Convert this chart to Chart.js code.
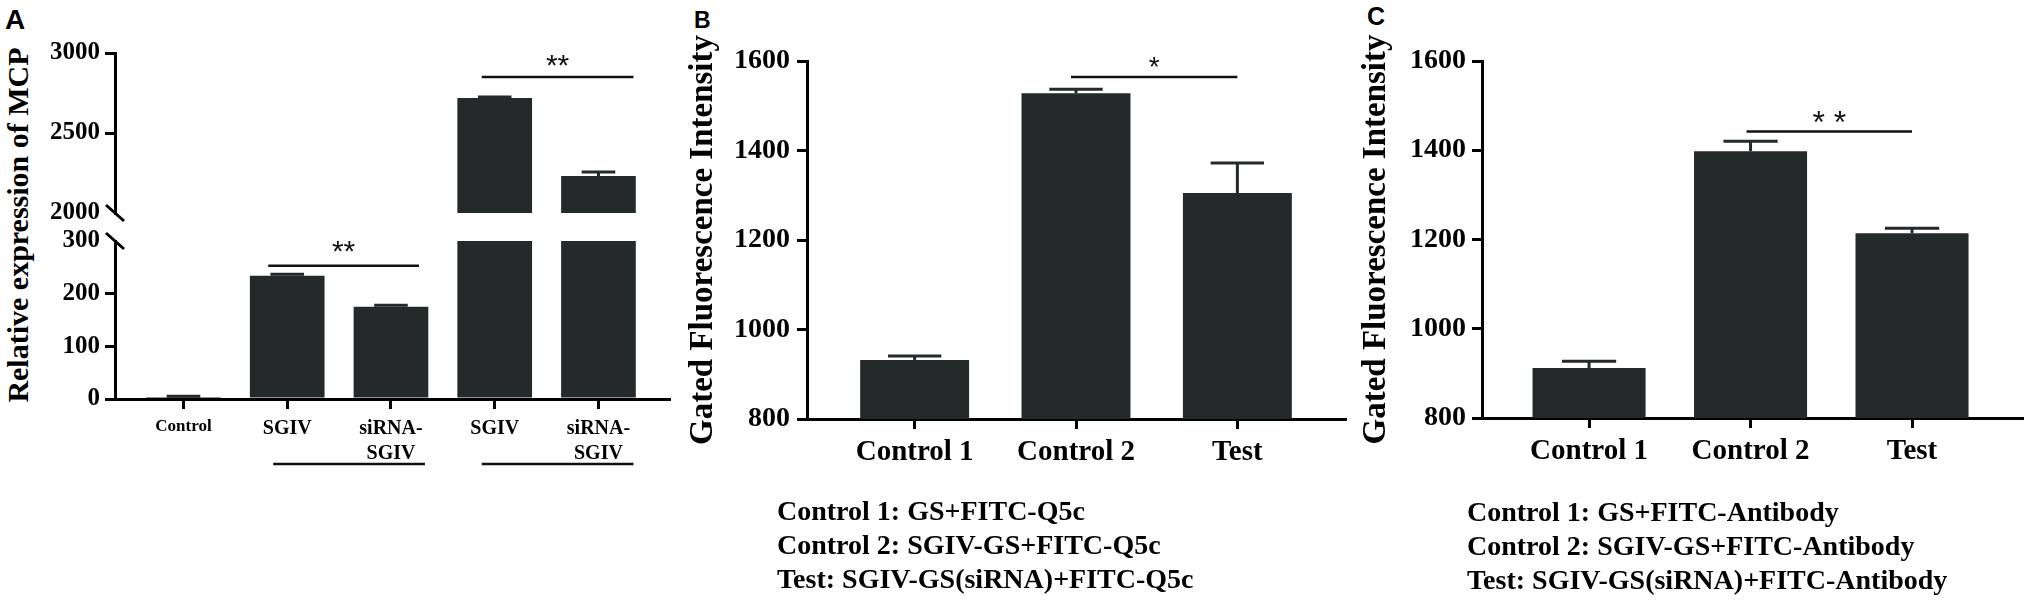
<!DOCTYPE html>
<html>
<head>
<meta charset="utf-8">
<script src="https://cdn.jsdelivr.net/npm/chart.js@4.4.1/dist/chart.umd.min.js"></script>
<style>
  body { margin: 0; width: 2031px; height: 600px; background: #fff; position: relative; overflow: hidden;
         font-family: 'Liberation Serif', 'Times New Roman', serif; color: #000; }
  canvas { position: absolute; }
  .letter { position: absolute; font-family: 'Liberation Sans', Arial, sans-serif; font-weight: bold; line-height: 1; }
  .ytitle { position: absolute; width: 400px; height: 30px; line-height: 30px; text-align: center;
            font-weight: bold; font-size: 30px; transform: rotate(-90deg); white-space: nowrap; }
  .note { position: absolute; font-weight: bold; font-size: 28px; line-height: 34px; white-space: nowrap; }
</style>
</head>
<body>
<div class="letter" style="left:5px;top:6px;font-size:28px">A</div>
<div class="letter" style="left:694px;top:9px;font-size:23px">B</div>
<div class="letter" style="left:1367px;top:4px;font-size:25px">C</div>
<div class="ytitle" style="left:-182px;top:210px">Relative expression of MCP</div>

<canvas id="chartAHigh" width="690" height="233" style="left:0;top:0"></canvas>
<canvas id="chartALow" width="690" height="300" style="left:0;top:221px"></canvas>
<canvas id="chartB" width="700" height="500" style="left:670px;top:0"></canvas>
<canvas id="chartC" width="688" height="500" style="left:1343px;top:0"></canvas>

<div class="note" style="left:777px;top:494px">
  Control 1: GS+FITC-Q5c<br>Control 2: SGIV-GS+FITC-Q5c<br>Test: SGIV-GS(siRNA)+FITC-Q5c
</div>
<div class="note" style="left:1467px;top:495px">
  Control 1: GS+FITC-Antibody<br>Control 2: SGIV-GS+FITC-Antibody<br>Test: SGIV-GS(siRNA)+FITC-Antibody
</div>

<script>
// panel A: qPCR, broken axis
const catsA = ["Control", "SGIV", ["siRNA-", "SGIV"], "SGIV", ["siRNA-", "SGIV"]];
const meanA = [4, 234, 175, 2719, 2231];
const semA = [1, 3, 3, 6, 25];
const ticksLowA = [0, 100, 200, 300];
const ticksHighA = [2000, 2500, 3000];

// panels B and C: flow cytometry
const catsBC = ["Control 1", "Control 2", "Test"];
const meanB = [932, 1528, 1305];
const semB = [9, 9, 67];
const meanC = [912, 1398, 1214];
const semC = [15, 22, 11];
const ticksBC = [800, 1000, 1200, 1400, 1600];

const BAR = "#24292a";
const SERIF = "'Liberation Serif', 'Times New Roman', serif";
const SANS = "'Liberation Sans', Arial, sans-serif";

Chart.defaults.font.family = SERIF;
Chart.defaults.color = "#000";
Chart.defaults.animation = false;

// error bars, significance brackets, group lines and axis breaks
const marks = {
  id: "marks",
  afterDatasetsDraw(chart, args, o) {
    const ctx = chart.ctx;
    const xs = chart.scales.x;
    const ys = chart.scales.y;
    const area = chart.chartArea;
    ctx.save();
    ctx.lineCap = "butt";

    if (o.means) {
      const ds = chart.data.datasets[0];
      chart.getDatasetMeta(0).data.forEach((bar, j) => {
        const i = ds.data[j].x;
        const m = o.means[i];
        const e = o.errs[i];
        if (m > ys.max || m < ys.min) return;
        const y0 = ys.getPixelForValue(m);
        const y1 = ys.getPixelForValue(m + e);
        const hw = bar.width * o.cap / 2;
        ctx.strokeStyle = BAR;
        ctx.lineWidth = 3;
        ctx.beginPath();
        ctx.moveTo(bar.x, y0);
        ctx.lineTo(bar.x, y1);
        ctx.moveTo(bar.x - hw, y1);
        ctx.lineTo(bar.x + hw, y1);
        ctx.stroke();
      });
    }

    (o.brackets || []).forEach(b => {
      const x0 = xs.getPixelForValue(b.a) + b.dl;
      const x1 = xs.getPixelForValue(b.b) + b.dr;
      const y = ys.getPixelForValue(b.y);
      ctx.strokeStyle = "#111";
      ctx.lineWidth = 2.5;
      ctx.beginPath();
      ctx.moveTo(x0, y);
      ctx.lineTo(x1, y);
      ctx.stroke();
      ctx.font = b.size + "px " + SANS;
      ctx.fillStyle = "#111";
      ctx.textAlign = "center";
      ctx.textBaseline = "alphabetic";
      const tm = ctx.measureText(b.text);
      const yc = y - b.gap;
      ctx.fillText(b.text, (x0 + x1) / 2, yc + (tm.actualBoundingBoxAscent - tm.actualBoundingBoxDescent) / 2);
    });

    (o.groups || []).forEach(g => {
      const x0 = xs.getPixelForValue(g.a) + g.dl;
      const x1 = xs.getPixelForValue(g.b) + g.dr;
      const y = area.bottom + g.dy;
      ctx.strokeStyle = "#111";
      ctx.lineWidth = 2.5;
      ctx.beginPath();
      ctx.moveTo(x0, y);
      ctx.lineTo(x1, y);
      ctx.stroke();
    });

    (o.breaks || []).forEach(v => {
      const y = ys.getPixelForValue(v);
      const x = area.left;
      ctx.strokeStyle = "#000";
      ctx.lineWidth = 3;
      ctx.beginPath();
      ctx.moveTo(x - 9, y - 8);
      ctx.lineTo(x + 9, y + 8);
      ctx.stroke();
    });

    ctx.restore();
  }
};

function yAxis(o) {
  return {
    min: o.min,
    max: o.max,
    afterBuildTicks: s => { s.ticks = o.ticks.map(v => ({ value: v })); },
    afterFit: s => { s.width = o.width; },
    border: { color: "#000", width: 3 },
    grid: {
      drawOnChartArea: false,
      tickLength: 10,
      lineWidth: 3,
      color: c => (o.hide || []).includes(c.tick && c.tick.value) ? "rgba(0,0,0,0)" : "#000"
    },
    ticks: {
      color: "#000",
      padding: o.pad,
      font: { family: SERIF, size: o.size, weight: "bold" },
      callback: v => String(v)
    },
    title: o.title
      ? { display: true, text: o.title, color: "#000", padding: { top: 6, bottom: 0 },
          font: { family: SERIF, size: 33, weight: "bold" } }
      : { display: false }
  };
}

function xAxis(o) {
  return {
    type: "linear",
    min: o.min,
    max: o.max,
    offset: false,
    display: o.display !== false,
    afterBuildTicks: s => { s.ticks = o.cats.map((c, i) => ({ value: i })); },
    afterFit: s => { if (o.height) s.height = o.height; },
    border: { color: "#000", width: 3 },
    grid: { offset: false, drawOnChartArea: false, tickLength: 10, lineWidth: 3, color: "#000" },
    ticks: {
      color: "#000",
      padding: o.pad || 0,
      autoSkip: false,
      maxRotation: 0,
      font: o.font,
      callback: v => o.cats[v]
    }
  };
}

function barChart(id, data, barPct, x, y, padding, marksOpts) {
  return new Chart(document.getElementById(id), {
    type: "bar",
    data: {
      datasets: [{
        data: data,
        backgroundColor: BAR,
        borderWidth: 0,
        barPercentage: barPct,
        categoryPercentage: 1
      }]
    },
    options: {
      responsive: false,
      layout: { padding: padding },
      plugins: { legend: { display: false }, tooltip: { enabled: false }, marks: marksOpts },
      scales: { x: x, y: y }
    },
    plugins: [marks]
  });
}

// A, upper part (2000-3000)
const highA = [];
meanA.forEach((v, i) => { if (v > ticksHighA[0]) highA.push({ x: i, y: [ticksHighA[0], v] }); });
barChart("chartAHigh", highA, 0.72,
  xAxis({ cats: catsA, min: -0.66, max: 4.68, display: false }),
  yAxis({ min: 2000, max: 3000, ticks: ticksHighA, width: 85, pad: 5, size: 25, hide: [2000] }),
  { left: 30, right: 21, top: 53, bottom: 20 },
  {
    means: meanA, errs: semA, cap: 0.45,
    brackets: [{ a: 3, b: 4, y: 2850, dl: -13, dr: 35, text: "**", size: 30, gap: 17 }],
    breaks: [2000]
  });

// A, lower part (0-300)
const lowMax = ticksLowA[ticksLowA.length - 1];
barChart("chartALow", meanA.map((v, i) => ({ x: i, y: Math.min(v, lowMax) })), 0.72,
  xAxis({
    cats: catsA, min: -0.66, max: 4.68, height: 80, pad: 7,
    font: c => c.index === 0
      ? { family: SERIF, size: 17, weight: "bold", lineHeight: 1.25 }
      : { family: SERIF, size: 20, weight: "bold", lineHeight: 1.25 }
  }),
  yAxis({ min: 0, max: 300, ticks: ticksLowA, width: 85, pad: 5, size: 25, hide: [300] }),
  { left: 30, right: 21, top: 20, bottom: 42 },
  {
    means: meanA, errs: semA, cap: 0.45,
    brackets: [{ a: 1, b: 2, y: 253, dl: -19, dr: 28, text: "**", size: 30, gap: 19 }],
    groups: [{ a: 1, b: 2, dl: -14, dr: 34, dy: 65 }, { a: 3, b: 4, dl: -13, dr: 35, dy: 65 }],
    breaks: [300]
  });

// B
barChart("chartB", meanB.map((v, i) => ({ x: i, y: v })), 0.675,
  xAxis({ cats: catsBC, min: -0.667, max: 2.667, height: 60, pad: 6,
          font: { family: SERIF, size: 29, weight: "bold", lineHeight: 1.2 } }),
  yAxis({ min: 800, max: 1600, ticks: ticksBC, width: 129, pad: 7, size: 28, title: "Gated Fluorescence Intensity" }),
  { left: 8, right: 25, top: 61, bottom: 21 },
  {
    means: meanB, errs: semB, cap: 0.49,
    brackets: [{ a: 1, b: 2, y: 1564, dl: -5, dr: 0, text: "*", size: 28, gap: 15 }]
  });

// C
barChart("chartC", meanC.map((v, i) => ({ x: i, y: v })), 0.70,
  xAxis({ cats: catsBC, min: -0.663, max: 2.681, height: 60, pad: 6,
          font: { family: SERIF, size: 29, weight: "bold", lineHeight: 1.2 } }),
  yAxis({ min: 800, max: 1600, ticks: ticksBC, width: 131, pad: 6, size: 28, title: "Gated Fluorescence Intensity" }),
  { left: 8, right: 9, top: 61, bottom: 22 },
  {
    means: meanC, errs: semC, cap: 0.48,
    brackets: [{ a: 1, b: 2, y: 1442, dl: -4, dr: 0, text: "* *", size: 32, gap: 15 }]
  });
</script>
</body>
</html>
